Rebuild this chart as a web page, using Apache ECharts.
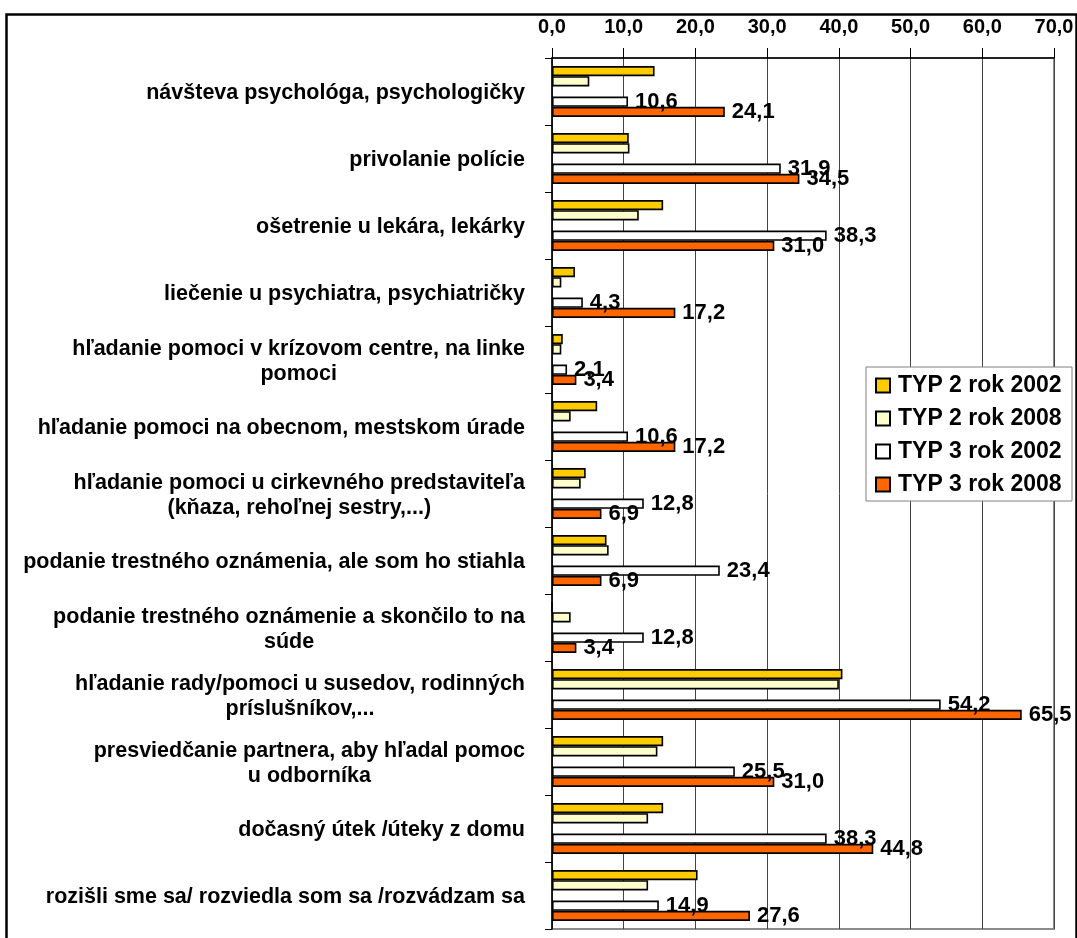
<!DOCTYPE html>
<html>
<head>
<meta charset="utf-8">
<script src="https://cdn.jsdelivr.net/npm/echarts@6/dist/echarts.min.js"></script>
<style>
html,body{margin:0;padding:0;background:#fff;}
#chart{width:1077px;height:938px;}
</style>
</head>
<body>
<div id="chart"></div>
<script>
const categories = [
  'návšteva psychológa, psychologičky',
  'privolanie polície',
  'ošetrenie u lekára, lekárky',
  'liečenie u psychiatra, psychiatričky',
  'hľadanie pomoci v krízovom centre, na linke\npomoci',
  'hľadanie pomoci na obecnom, mestskom úrade',
  'hľadanie pomoci u cirkevného predstaviteľa\n(kňaza, rehoľnej sestry,...)',
  'podanie trestného oznámenia, ale som ho stiahla',
  'podanie trestného oznámenie a skončilo to na\nsúde',
  'hľadanie rady/pomoci u susedov, rodinných\npríslušníkov,...',
  'presviedčanie partnera, aby hľadal pomoc\nu odborníka',
  'dočasný útek /úteky z domu',
  'rozišli sme sa/ rozviedla som sa /rozvádzam sa'
];
const seriesNames = ['TYP 2 rok 2002', 'TYP 2 rok 2008', 'TYP 3 rok 2002', 'TYP 3 rok 2008'];
const typ2_2002 = [14.3, 10.7, 15.5, 3.2, 1.5, 6.3, 4.7, 7.6, 0, 40.5, 15.5, 15.5, 20.3];
const typ2_2008 = [5.2, 10.8, 12.1, 1.3, 1.3, 2.6, 4.0, 7.9, 2.6, 40.0, 14.7, 13.4, 13.4];
const typ3_2002 = [10.6, 31.9, 38.3, 4.3, 2.1, 10.6, 12.8, 23.4, 12.8, 54.2, 25.5, 38.3, 14.9];
const typ3_2008 = [24.1, 34.5, 31.0, 17.2, 3.4, 17.2, 6.9, 6.9, 3.4, 65.5, 31.0, 44.8, 27.6];
const axisMin = 0, axisMax = 70, axisStep = 10;

const FONT = '"Liberation Sans", Arial, Helvetica, sans-serif';
const fmt = v => Number(v).toFixed(1).replace('.', ',');

const chart = echarts.init(document.getElementById('chart'), null, {renderer: 'canvas'});

const barBase = {
  type: 'bar',
  barGap: '0%',
  barCategoryGap: '24%',
  emphasis: {disabled: true}
};
const valueLabel = {
  show: true,
  position: 'right',
  distance: 7,
  color: '#000',
  fontFamily: FONT,
  fontWeight: 'bold',
  fontSize: 22,
  formatter: p => fmt(p.value)
};

chart.setOption({
  animation: false,
  backgroundColor: '#fff',
  grid: {left: 552, right: 23, top: 58, bottom: 9, show: true, borderColor: '#8c8c8c', borderWidth: 2, outerBoundsMode: 'none'},
  legend: {
    data: seriesNames,
    orient: 'vertical',
    left: 866,
    top: 367,
    backgroundColor: '#fff',
    borderColor: '#808080',
    borderWidth: 1,
    padding: [7, 4, 5, 9],
    itemWidth: 14,
    itemHeight: 14,
    itemGap: 10,
    icon: 'rect',
    selectedMode: false,
    textStyle: {fontFamily: FONT, fontWeight: 'bold', fontSize: 23, color: '#000', lineHeight: 23, width: 170, padding: [0, 0, 0, 3]}
  },
  xAxis: {
    type: 'value',
    position: 'top',
    min: axisMin, max: axisMax, interval: axisStep,
    axisLine: {show: true, lineStyle: {color: '#000', width: 1.5}},
    axisTick: {show: true, inside: false, length: 10, lineStyle: {color: '#000', width: 1}},
    axisLabel: {fontFamily: FONT, fontWeight: 'bold', fontSize: 20, color: '#000', margin: 21, formatter: v => fmt(v)},
    splitLine: {show: true, lineStyle: {color: '#444', width: 1}}
  },
  yAxis: {
    type: 'category',
    inverse: true,
    data: categories,
    axisLine: {show: true, lineStyle: {color: '#000', width: 1.5}},
    axisTick: {show: true, inside: false, length: 7, lineStyle: {color: '#000', width: 1}},
    axisLabel: {
      margin: 27,
      padding: [4, 0, 0, 0],
      fontFamily: FONT, fontWeight: 'bold', fontSize: 21.5, color: '#000', lineHeight: 25,
      formatter: v => v.split('\n').map(l => '{c|' + l + '}').join('\n'),
      rich: {c: {fontFamily: FONT, fontWeight: 'bold', fontSize: 21.5, color: '#000', lineHeight: 25, align: 'center'}}
    }
  },
  series: [
    Object.assign({}, barBase, {name: seriesNames[0], data: typ2_2002, itemStyle: {color: '#FFCC00', borderColor: '#000', borderWidth: 1.6}}),
    Object.assign({}, barBase, {name: seriesNames[1], data: typ2_2008, itemStyle: {color: '#FFFFCC', borderColor: '#000', borderWidth: 1.6}}),
    Object.assign({}, barBase, {name: '', data: categories.map(() => null), itemStyle: {color: 'transparent', borderWidth: 0}}),
    Object.assign({}, barBase, {name: seriesNames[2], data: typ3_2002, itemStyle: {color: '#FFFFFF', borderColor: '#000', borderWidth: 1.6}, label: valueLabel}),
    Object.assign({}, barBase, {name: seriesNames[3], data: typ3_2008, itemStyle: {color: '#FF6600', borderColor: '#000', borderWidth: 1.6}, label: valueLabel})
  ],
  graphic: [{
    type: 'rect',
    left: 4, top: 12,
    shape: {x: 0, y: 0, width: 1070, height: 960},
    style: {fill: null, stroke: '#000', lineWidth: 2.5},
    silent: true,
    z: 100
  }]
});
</script>
</body>
</html>
